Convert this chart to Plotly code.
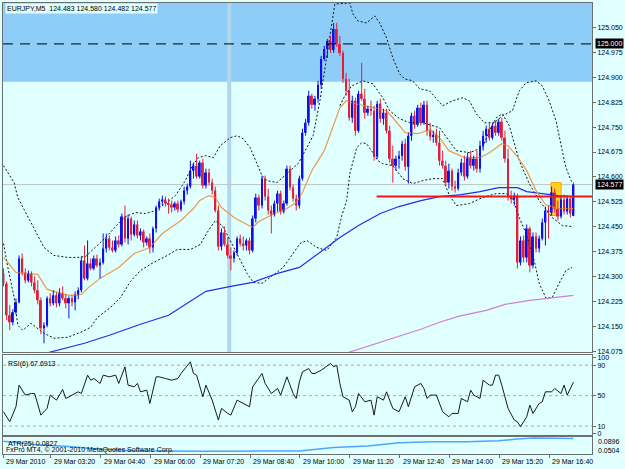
import plotly.graph_objects as go
from plotly.subplots import make_subplots

# ---------------- data ----------------
opens = [124.310,124.280,124.184,124.163,124.193,124.223,124.355,124.313,124.289,124.310,
124.283,124.259,124.229,124.145,124.154,124.235,124.220,124.244,124.220,124.250,
124.235,124.220,124.235,124.223,124.244,124.259,124.349,124.295,124.340,124.325,
124.355,124.334,124.343,124.385,124.415,124.388,124.379,124.409,124.397,124.481,
124.415,124.475,124.427,124.457,124.424,124.436,124.403,124.415,124.388,124.445,
124.508,124.526,124.532,124.520,124.517,124.508,124.520,124.502,124.526,124.559,
124.571,124.619,124.634,124.601,124.643,124.574,124.613,124.583,124.559,124.499,
124.391,124.433,124.397,124.364,124.355,124.373,124.415,124.400,124.394,124.409,
124.379,124.475,124.538,124.514,124.595,124.541,124.499,124.487,124.520,124.550,
124.496,124.520,124.625,124.568,124.535,124.514,124.595,124.733,124.763,124.844,
124.817,124.835,124.877,124.955,124.985,125.009,124.982,125.045,125.000,124.973,
124.895,124.859,124.778,124.829,124.739,124.850,124.835,124.793,124.805,124.799,
124.661,124.820,124.775,124.793,124.739,124.655,124.634,124.655,124.664,124.700,
124.631,124.724,124.784,124.757,124.808,124.763,124.817,124.739,124.721,124.727,
124.703,124.649,124.634,124.583,124.619,124.571,124.565,124.613,124.643,124.601,
124.661,124.634,124.655,124.625,124.694,124.724,124.745,124.718,124.754,124.733,
124.766,124.718,124.655,124.541,124.532,124.544,124.343,124.409,124.358,124.445,
124.334,124.421,124.385,124.415,124.463,124.499,124.493,124.553,124.505,124.481,
124.532,124.496,124.535,124.483]
highs = [124.325,124.286,124.214,124.202,124.235,124.364,124.370,124.325,124.319,124.316,
124.301,124.289,124.238,124.163,124.241,124.250,124.259,124.253,124.265,124.271,
124.247,124.241,124.244,124.256,124.268,124.361,124.394,124.409,124.355,124.364,
124.367,124.355,124.430,124.430,124.424,124.409,124.421,124.424,124.490,124.514,
124.487,124.481,124.469,124.469,124.445,124.442,124.421,124.430,124.451,124.514,
124.535,124.544,124.541,124.535,124.529,124.526,124.529,124.532,124.571,124.580,
124.649,124.643,124.670,124.649,124.655,124.625,124.625,124.595,124.571,124.514,
124.445,124.451,124.418,124.388,124.379,124.421,124.427,124.421,124.415,124.418,
124.484,124.550,124.547,124.604,124.604,124.565,124.514,124.529,124.559,124.559,
124.529,124.634,124.634,124.577,124.547,124.604,124.745,124.775,124.859,124.850,
124.844,124.889,124.964,124.994,125.015,125.024,125.063,125.063,125.024,124.979,
124.913,124.895,124.844,124.838,124.859,124.943,124.865,124.814,124.829,124.814,
124.829,124.835,124.805,124.805,124.754,124.694,124.664,124.679,124.709,124.715,
124.733,124.793,124.799,124.817,124.823,124.829,124.829,124.763,124.739,124.745,
124.739,124.679,124.649,124.640,124.625,124.589,124.625,124.655,124.664,124.673,
124.679,124.664,124.679,124.709,124.739,124.754,124.763,124.763,124.769,124.775,
124.778,124.739,124.685,124.559,124.553,124.550,124.421,124.424,124.457,124.451,
124.433,124.433,124.424,124.475,124.511,124.514,124.571,124.565,124.529,124.541,
124.547,124.544,124.541,124.580]
lows = [124.271,124.169,124.139,124.154,124.187,124.220,124.304,124.280,124.283,124.271,
124.250,124.217,124.127,124.100,124.148,124.211,124.214,124.208,124.211,124.229,
124.205,124.175,124.211,124.199,124.232,124.253,124.289,124.289,124.319,124.319,
124.328,124.295,124.337,124.373,124.379,124.373,124.373,124.388,124.391,124.403,
124.397,124.409,124.421,124.415,124.409,124.388,124.394,124.370,124.373,124.433,
124.499,124.514,124.511,124.490,124.493,124.499,124.493,124.496,124.517,124.547,
124.565,124.595,124.595,124.595,124.565,124.565,124.574,124.547,124.493,124.379,
124.379,124.391,124.355,124.319,124.343,124.364,124.391,124.379,124.379,124.367,
124.373,124.463,124.499,124.505,124.529,124.487,124.430,124.481,124.496,124.487,
124.490,124.514,124.559,124.526,124.499,124.505,124.589,124.724,124.754,124.805,
124.799,124.823,124.865,124.949,124.958,124.973,124.973,124.991,124.964,124.883,
124.844,124.769,124.763,124.724,124.733,124.829,124.775,124.784,124.784,124.649,
124.655,124.763,124.757,124.730,124.643,124.583,124.619,124.625,124.649,124.619,
124.580,124.709,124.745,124.751,124.754,124.757,124.724,124.709,124.703,124.694,
124.634,124.625,124.574,124.565,124.559,124.553,124.559,124.604,124.589,124.595,
124.625,124.619,124.613,124.613,124.679,124.703,124.709,124.712,124.724,124.724,
124.709,124.643,124.529,124.520,124.514,124.325,124.334,124.343,124.343,124.313,
124.325,124.373,124.373,124.409,124.394,124.415,124.484,124.493,124.469,124.475,
124.487,124.487,124.478,124.482]
closes = [124.280,124.184,124.163,124.193,124.223,124.355,124.313,124.289,124.310,124.283,
124.259,124.229,124.145,124.154,124.235,124.220,124.244,124.220,124.250,124.235,
124.220,124.235,124.223,124.244,124.259,124.349,124.295,124.340,124.325,124.355,
124.334,124.343,124.385,124.415,124.388,124.379,124.409,124.397,124.481,124.415,
124.475,124.427,124.457,124.424,124.436,124.403,124.415,124.388,124.445,124.508,
124.526,124.532,124.520,124.517,124.508,124.520,124.502,124.526,124.559,124.571,
124.619,124.634,124.601,124.643,124.574,124.613,124.583,124.559,124.499,124.391,
124.433,124.397,124.364,124.355,124.373,124.415,124.400,124.394,124.409,124.379,
124.475,124.538,124.514,124.595,124.541,124.499,124.487,124.520,124.550,124.496,
124.520,124.625,124.568,124.535,124.514,124.595,124.733,124.763,124.844,124.817,
124.835,124.877,124.955,124.985,125.009,124.982,125.045,125.000,124.973,124.895,
124.859,124.778,124.829,124.739,124.850,124.835,124.793,124.805,124.799,124.661,
124.820,124.775,124.793,124.739,124.655,124.634,124.655,124.664,124.700,124.631,
124.724,124.784,124.757,124.808,124.763,124.817,124.739,124.721,124.727,124.703,
124.649,124.634,124.583,124.619,124.571,124.565,124.613,124.643,124.601,124.661,
124.634,124.655,124.625,124.694,124.724,124.745,124.718,124.754,124.733,124.766,
124.718,124.655,124.541,124.532,124.544,124.343,124.409,124.358,124.445,124.334,
124.421,124.385,124.415,124.463,124.499,124.493,124.553,124.505,124.481,124.532,
124.496,124.535,124.490,124.577]

orange_i = [0,4,11,14,21,25,27,31,37,42,47,51,57,61,63,66,68,70,74,80,82,87,91,94,96,99,103,106,108,110,
            113,119,123,125,129,133,137,140,143,148,153,156,160,162,165,168,171,174,178,183]
orange_v = [124.358,124.313,124.307,124.262,124.244,124.247,124.265,124.295,124.328,124.370,
            124.388,124.430,124.469,124.505,124.529,124.544,124.538,124.508,124.478,124.448,
            124.466,124.490,124.505,124.523,124.553,124.619,124.679,124.754,124.808,124.829,
            124.820,124.808,124.799,124.778,124.733,124.730,124.742,124.718,124.679,124.658,
            124.658,124.673,124.700,124.694,124.661,124.619,124.559,124.517,124.505,124.505]
blue_i = [0,15,26,34,44,53,59,65,73,80,88,95,102,108,114,121,127,134,140,147,153,159,165,168,173,178,183]
blue_v = [124.037,124.073,124.100,124.124,124.157,124.184,124.220,124.256,124.271,124.283,124.310,124.328,
          124.376,124.418,124.454,124.490,124.511,124.529,124.541,124.547,124.556,124.568,124.568,124.556,
          124.550,124.544,124.541]
violet_i = [105,113,121,127,134,140,146,155,161,169,174,183]
violet_v = [124.055,124.079,124.103,124.121,124.142,124.163,124.181,124.199,124.217,124.229,124.235,124.244]

# upper band (left to right)
band1_i = [0,3.4,4.6,8.8,11.0,13.0,16.2,20.6,23.8,26.4,29.6,32.8,36.0,39.2,42.4,45.6,48.8,52.0,55.2,58.4,
           60.6,62.6,64.8,67.4,69.6,72.8,75.0,77.0,79.2,83.0,84.6,87.8,91.0,94.6,97.4,99.4,101.6,104.2,106.4,
           111.2,112.2,113.8,116.6,119.2,120.8,123.0,125.0,127.2,128.8,131.4,133.6,136.8,139.0,141.0,
           144.2,147.4,149.6,151.8,154.4,157.6,160.2,163.4,165.6,167.8,171.0,173.0,175.2,177.4,179.4,
           180.6,182.2,183.2]
band1_v = [124.634,124.583,124.538,124.460,124.424,124.388,124.364,124.358,124.358,124.361,124.388,124.418,
           124.451,124.481,124.493,124.490,124.499,124.520,124.544,124.589,124.634,124.658,
           124.664,124.658,124.694,124.718,124.724,124.715,124.688,124.604,124.589,124.583,124.610,
           124.640,124.688,124.724,124.829,124.994,125.120,125.123,125.090,125.069,125.063,125.084,125.063,
           125.018,124.958,124.910,124.895,124.889,124.865,124.859,124.835,124.814,124.829,124.838,124.829,
           124.790,124.763,124.763,124.784,124.799,124.859,124.883,124.889,124.874,124.829,124.769,124.679,
           124.628,124.589,124.580]
# lower band
band2_i = [0,1.4,3.4,4.6,6.2,8.8,13.0,16.2,20.6,24.8,28.0,30.2,34.4,37.6,40.8,44.0,48.2,52.6,55.8,60.0,
           63.2,65.4,68.0,70.2,72.8,76.0,78.2,80.2,83.0,85.6,89.8,93.0,95.2,97.4,100.6,103.8,107.0,108.6,
           110.2,111.2,112.2,113.4,115.0,116.6,118.6,120.2,121.8,125.0,128.2,131.4,134.6,137.8,141.0,
           143.2,145.4,149.6,153.8,158.2,161.4,163.4,165.6,167.8,170.4,172.0,174.2,176.2,178.4,180.6,182.6]
band2_v = [124.400,124.328,124.238,124.154,124.139,124.160,124.130,124.115,124.118,124.133,124.148,124.178,
           124.208,124.238,124.286,124.319,124.343,124.364,124.382,124.382,124.397,124.433,124.469,124.454,
           124.409,124.349,124.310,124.283,124.280,124.298,124.328,124.370,124.400,124.409,124.388,124.379,
           124.418,124.484,124.529,124.610,124.649,124.688,124.703,124.700,124.673,124.649,124.640,124.634,
           124.595,124.580,124.589,124.595,124.595,124.544,124.514,124.520,124.538,124.550,124.550,124.538,
           124.478,124.430,124.349,124.280,124.235,124.238,124.280,124.319,124.328]
# inner band (right part)
band4_i = [108.0,109.6,111.8,115.4,118.6,121.8,124.0,127.2,130.4,134.6,140.0,143.2,145.4,149.6,153.8,156.0,
           158.2,160.2,162.4,165.6,168.8,172.0,176.2,179.4,182.6]
band4_v = [124.814,124.844,124.874,124.889,124.880,124.838,124.799,124.775,124.763,124.763,124.748,124.709,
           124.679,124.673,124.688,124.739,124.778,124.790,124.754,124.649,124.580,124.529,124.478,124.454,
           124.451]

rsi_i = [0,2,4,5,7,9,10,12,14,15,17,19,20,23,24,25,27,28,29,31,32,34,36,37,39,40,42,43,44,46,47,49,50,52,54,
         56,57,60,61,62,64,65,67,69,70,72,73,75,77,79,80,83,84,86,88,89,91,93,94,95,96,98,99,100,102,104,105,
         106,107,108,109,111,112,113,114,116,118,119,120,122,123,125,127,129,130,132,134,135,136,137,139,141,
         143,144,146,147,149,150,151,153,154,156,157,158,159,160,162,164,165,166,168,169,170,172,173,174,176,
         177,179,180,181,183]
rsi_v = [28.8,15.7,35.4,63.8,50.7,52.8,52.8,24.4,33.2,50.7,44.1,58.1,46.3,52.8,55.0,52.8,76.9,70.3,72.5,66.0,
         76.9,74.7,76.9,66.0,87.8,63.8,61.6,66.0,55.0,57.2,39.7,74.7,74.7,72.5,70.3,72.5,79.1,94.4,79.1,76.9,
         48.5,63.8,44.1,17.9,33.2,26.6,24.4,44.1,39.7,35.4,61.6,79.1,66.0,52.8,59.4,50.7,74.7,52.8,46.3,68.1,
         81.3,85.6,79.1,79.1,83.4,90.0,92.2,87.8,90.0,66.0,48.5,44.1,28.8,35.4,52.8,41.9,44.1,24.4,48.5,44.1,
         55.0,33.2,28.8,48.5,35.4,61.6,66.0,59.4,46.3,50.7,50.7,28.8,22.2,26.6,26.6,46.3,41.9,57.2,50.7,46.3,
         70.3,63.8,63.8,76.9,76.9,63.8,33.2,17.9,15.7,9.1,22.2,37.5,26.6,39.7,41.9,55.0,55.0,59.4,52.8,63.8,
         50.7,67.7]
rsi_levels = [90, 50, 10]
rsi_ticks = [0, 10, 50, 90, 100]

atr_i = [0,10,21,31,42,53,63,74,85,95,106,117,127,138,149,159,165,170,183]
atr_v = [0.0755,0.0672,0.0624,0.0552,0.0516,0.0504,0.0504,0.0504,0.0516,0.0511,0.0600,0.0636,0.0719,
         0.0743,0.0743,0.0767,0.0815,0.0839,0.0827]

time_pos = [-0.15,15.2,31.2,47.2,63.2,79.2,95.2,111.2,127.2,143.2,159.2,175.2]
time_labels = ["29 Mar 2010","29 Mar 03:20","29 Mar 04:40","29 Mar 06:00","29 Mar 07:20","29 Mar 08:40",
               "29 Mar 10:00","29 Mar 11:20","29 Mar 12:40","29 Mar 14:00","29 Mar 15:20","29 Mar 16:40"]
price_ticks = [124.075,124.150,124.225,124.300,124.375,124.450,124.525,124.600,124.675,124.750,
               124.825,124.900,124.975,125.050]

zone_low = 124.886
level_line = 125.000
bid = 124.577
red_level = 124.541
red_start = 119.8
vline_i = (71.84, 73.12)
box_i = (175.8, 179.04)
box_v = (124.484, 124.583)

# ---------------- figure ----------------
BG = "#E0FFFF"
FONT = "Liberation Sans, Arial, sans-serif"
fig = make_subplots(rows=3, cols=1, shared_xaxes=True, vertical_spacing=0)

idx = list(range(len(closes)))
bull = [c >= o for o, c in zip(opens, closes)]
UP, DN = "#1010E8", "#E0203C"
base = [min(o, c) for o, c in zip(opens, closes)]
hgt = [max(abs(c - o), 0.0018) for o, c in zip(opens, closes)]
cols = [UP if b else DN for b in bull]

for bi, bv in [(band1_i, band1_v), (band2_i, band2_v), (band4_i, band4_v)]:
    fig.add_trace(go.Scatter(x=bi, y=bv, mode="lines", line=dict(color="#111111", width=1, dash="2px,2px"),
                             hoverinfo="skip", showlegend=False), row=1, col=1)
fig.add_trace(go.Scatter(x=blue_i, y=blue_v, mode="lines", line=dict(color="#2A2AF0", width=1.2),
                         showlegend=False), row=1, col=1)
fig.add_trace(go.Scatter(x=violet_i, y=violet_v, mode="lines", line=dict(color="#D27ED6", width=1.2),
                         showlegend=False), row=1, col=1)
fig.add_trace(go.Scatter(x=orange_i, y=orange_v, mode="lines", line=dict(color="#EE9A4E", width=1.2),
                         showlegend=False), row=1, col=1)

for want, colr in [(True, UP), (False, DN)]:
    wx, wy = [], []
    for i in idx:
        if bull[i] == want:
            wx += [i, i, None]
            wy += [lows[i], highs[i], None]
    fig.add_trace(go.Scatter(x=wx, y=wy, mode="lines", line=dict(color=colr, width=1),
                             hoverinfo="skip", showlegend=False), row=1, col=1)
fig.add_trace(go.Bar(x=idx, y=hgt, base=base, width=0.62, marker=dict(color=cols, line=dict(width=0)),
                     showlegend=False), row=1, col=1)

fig.add_trace(go.Scatter(x=rsi_i, y=rsi_v, mode="lines", line=dict(color="#1A1A1A", width=1),
                         showlegend=False), row=2, col=1)
fig.add_trace(go.Scatter(x=atr_i, y=atr_v, mode="lines", line=dict(color="#4EA6FF", width=1.5),
                         showlegend=False), row=3, col=1)

plot_w = 591
def px(xp):
    return (xp - 2) / plot_w
def py(yp):
    return (454 - yp) / 452

shapes = [
    dict(type="rect", xref="x domain", yref="y", x0=0, x1=1, y0=zone_low, y1=125.2,
         fillcolor="#8DCDF7", line=dict(width=0), layer="below"),
    dict(type="rect", xref="x", yref="y domain", x0=vline_i[0], x1=vline_i[1], y0=0, y1=1,
         fillcolor="#B0D8EA", line=dict(width=0), layer="below"),
    dict(type="line", xref="x domain", yref="y", x0=0, x1=1, y0=bid, y1=bid,
         line=dict(color="#C4C4C4", width=1), layer="below"),
    dict(type="rect", xref="x", yref="y", x0=box_i[0], x1=box_i[1], y0=box_v[0], y1=box_v[1],
         fillcolor="#FFD21F", line=dict(color="#FFA000", width=1), layer="below"),
    dict(type="line", xref="x domain", yref="y", x0=0, x1=1, y0=level_line, y1=level_line,
         line=dict(color="#000000", width=1, dash="10px,7px")),
    dict(type="line", xref="x", yref="y", x0=red_start, x1=188.96, y0=red_level, y1=red_level,
         line=dict(color="#F01818", width=2)),
]
for lv in rsi_levels:
    shapes.append(dict(type="line", xref="x2 domain", yref="y2", x0=0, x1=1, y0=lv, y1=lv,
                       line=dict(color="#A8A8A8", width=1, dash="3px,3px"), layer="below"))

ann = []
tf = dict(family=FONT, size=7, color="#000000")
ann.append(dict(xref="paper", yref="paper", x=px(4), y=py(7.5), xanchor="left", yanchor="middle",
                text="EURJPY,M5  124.483 124.580 124.482 124.577", showarrow=False, font=tf,
                bgcolor=BG, borderpad=1))
ann.append(dict(xref="paper", yref="paper", x=px(5), y=py(363.5), xanchor="left", yanchor="middle",
                text="RSI(6) 67.6913", showarrow=False, font=tf))
ann.append(dict(xref="paper", yref="paper", x=px(5), y=py(444), xanchor="left", yanchor="middle",
                text="ATR(25) 0.0827", showarrow=False, font=tf))
ann.append(dict(xref="paper", yref="paper", x=px(3), y=py(449.5), xanchor="left", yanchor="middle",
                text="FxPro MT4, © 2001-2010 MetaQuotes Software Corp.", showarrow=False, font=tf))
ann.append(dict(xref="paper", yref="paper", x=px(597), y=py(441), xanchor="left", yanchor="middle",
                text="0.0896", showarrow=False, font=tf))
ann.append(dict(xref="paper", yref="paper", x=px(597), y=py(450.5), xanchor="left", yanchor="middle",
                text="0.0504", showarrow=False, font=tf))
for val in [level_line, bid]:
    ann.append(dict(xref="paper", yref="y", x=px(596), y=val, xanchor="left", yanchor="middle",
                    text="%.3f" % val, showarrow=False, font=dict(family=FONT, size=7, color="#FFFFFF"),
                    bgcolor="#000000", borderpad=1))
for pos, lab in zip(time_pos, time_labels):
    ann.append(dict(xref="x", yref="paper", x=pos, y=py(461.5), xanchor="left", yanchor="middle",
                    xshift=1, text=lab, showarrow=False, font=tf))

axline = dict(showline=True, mirror=True, linecolor="#6E6E6E", linewidth=1, showgrid=False, zeroline=False)
xr = [-0.16, 188.96]
fig.update_xaxes(range=xr, **axline)
fig.update_xaxes(showticklabels=False, ticks="", row=1, col=1)
fig.update_xaxes(showticklabels=False, ticks="", row=2, col=1)
fig.update_xaxes(showticklabels=False, ticks="outside", ticklen=3, tickcolor="#6E6E6E",
                 tickvals=time_pos, row=3, col=1)

fig.update_yaxes(**axline)
fig.update_yaxes(row=1, col=1, range=[124.073, 125.123], side="right", tickvals=price_ticks,
                 ticktext=["%.3f" % v for v in price_ticks], ticks="outside", ticklen=3,
                 tickcolor="#6E6E6E", tickfont=tf, domain=[py(352), 1])
fig.update_yaxes(row=2, col=1, range=[-1.8, 103.1], side="right", tickvals=rsi_ticks,
                 ticktext=[str(v) for v in rsi_ticks], ticks="outside", ticklen=3,
                 tickcolor="#6E6E6E", tickfont=tf, domain=[py(435), py(355)])
fig.update_yaxes(row=3, col=1, range=[0.0433, 0.0863], side="right", showticklabels=False, ticks="",
                 domain=[0, py(437)])

fig.update_layout(width=625, height=469, margin=dict(l=2, r=32, t=2, b=15),
                  paper_bgcolor=BG, plot_bgcolor=BG, showlegend=False, barmode="overlay",
                  shapes=shapes, annotations=ann, font=dict(family=FONT, size=7, color="#000"))

fig.write_html("out.html")
